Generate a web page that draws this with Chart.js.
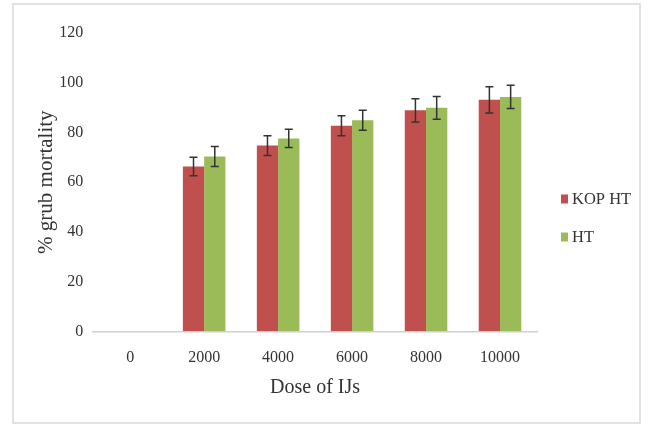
<!DOCTYPE html>
<html>
<head>
<meta charset="utf-8">
<script src="https://cdn.jsdelivr.net/npm/chart.js@4.4.1/dist/chart.umd.min.js"></script>
<style>
  html, body { margin: 0; padding: 0; background: #ffffff; }
  #wrap { width: 648px; height: 425px; position: relative; }
</style>
</head>
<body>
<div id="wrap"><canvas id="c" width="648" height="425"></canvas></div>
<script>
// ---- data ----
const categories = ['0', '2000', '4000', '6000', '8000', '10000'];
const seriesNames = ['KOP HT', 'HT'];
const kopHT = [0, 66.3, 74.7, 82.7, 88.9, 93.1];
const htValues = [0, 70.3, 77.6, 84.9, 89.9, 94.3];
const kopErr = [0, 3.7, 4.0, 4.0, 4.7, 5.3];
const htErr = [0, 4.0, 3.7, 4.0, 4.6, 4.7];
const yTickMin = 0, yTickMax = 120, yTickStep = 20;
const xTitle = 'Dose of IJs';
const yTitle = '% grub mortality';

const RED = '#C0504D';
const GREEN = '#9BBB59';
const TEXT = '#333333';
const FONT = "'Liberation Serif', 'Times New Roman', serif";

const errorBars = {
  id: 'errorBars',
  afterDatasetsDraw(chart) {
    const ctx = chart.ctx;
    const y = chart.scales.y;
    chart.data.datasets.forEach((ds, i) => {
      const meta = chart.getDatasetMeta(i);
      meta.data.forEach((bar, j) => {
        const err = ds.errors[j];
        if (!err) return;
        const v = ds.data[j];
        const yTop = y.getPixelForValue(v + err);
        const yBot = y.getPixelForValue(v - err);
        const cap = 4;
        ctx.save();
        ctx.strokeStyle = '#333333';
        ctx.lineWidth = 1.5;
        ctx.beginPath();
        ctx.moveTo(bar.x, yTop); ctx.lineTo(bar.x, yBot);
        ctx.moveTo(bar.x - cap, yTop); ctx.lineTo(bar.x + cap, yTop);
        ctx.moveTo(bar.x - cap, yBot); ctx.lineTo(bar.x + cap, yBot);
        ctx.stroke();
        ctx.restore();
      });
    });
  }
};

const frameAndLegend = {
  id: 'frameAndLegend',
  beforeDraw(chart) {
    const ctx = chart.ctx;
    ctx.save();
    ctx.fillStyle = '#ffffff';
    ctx.fillRect(0, 0, chart.width, chart.height);
    ctx.strokeStyle = '#d9d9d9';
    ctx.lineWidth = 1.5;
    ctx.strokeRect(13, 4, 627, 419);
    ctx.restore();
  },
  afterDraw(chart) {
    const ctx = chart.ctx;
    const area = chart.chartArea;
    ctx.save();
    ctx.font = '16.5px ' + FONT;
    ctx.textBaseline = 'middle';
    const x0 = area.right + 24;
    chart.data.datasets.forEach((ds, i) => {
      const yc = 199 + i * 38;
      ctx.fillStyle = ds.backgroundColor;
      ctx.fillRect(x0, yc - 4.5, 7, 9);
      ctx.fillStyle = TEXT;
      ctx.fillText(ds.label, x0 + 11, yc + 1);
    });
    ctx.restore();
  }
};

new Chart(document.getElementById('c'), {
  type: 'bar',
  data: {
    labels: categories,
    datasets: [
      { label: seriesNames[0], data: kopHT, errors: kopErr, backgroundColor: RED,
        categoryPercentage: 0.575, barPercentage: 1.0 },
      { label: seriesNames[1], data: htValues, errors: htErr, backgroundColor: GREEN,
        categoryPercentage: 0.575, barPercentage: 1.0 }
    ]
  },
  options: {
    responsive: false,
    animation: false,
    devicePixelRatio: 1,
    layout: { padding: { left: 34, right: 111, top: 33, bottom: 25.5 } },
    plugins: {
      legend: { display: false },
      tooltip: { enabled: false }
    },
    scales: {
      x: {
        grid: { display: false, drawTicks: false },
        border: { display: true, color: '#d0d0d0', width: 1.5 },
        ticks: { color: TEXT, font: { family: FONT, size: 16 }, padding: 17 },
        title: { display: true, text: xTitle, color: TEXT,
                 font: { family: FONT, size: 20 }, padding: { top: -9, bottom: 0 } }
      },
      y: {
        min: yTickMin, max: yTickMax,
        grid: { display: false, drawTicks: false },
        border: { display: false },
        ticks: { stepSize: yTickStep, color: TEXT, font: { family: FONT, size: 16 }, padding: 10 },
        title: { display: true, text: yTitle, color: TEXT,
                 font: { family: FONT, size: 21 }, padding: { top: 0, bottom: -10 } }
      }
    }
  },
  plugins: [errorBars, frameAndLegend]
});
</script>
</body>
</html>
